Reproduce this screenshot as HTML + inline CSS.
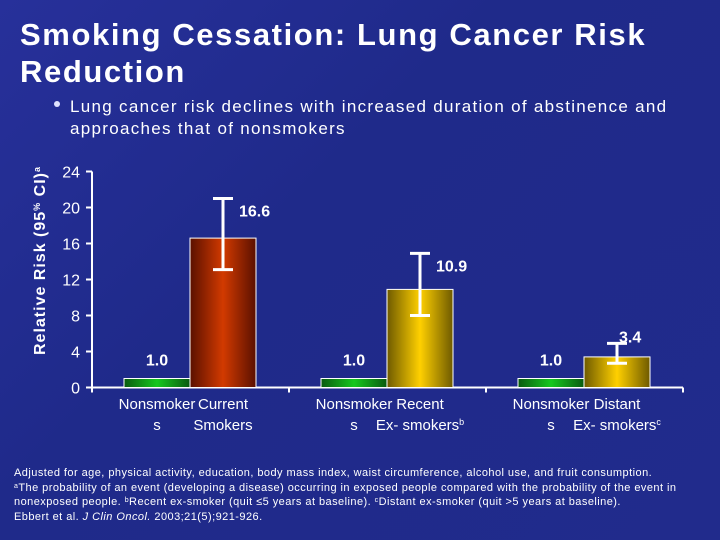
<!DOCTYPE html>
<html><head><meta charset="utf-8"><style>
body{margin:0;width:720px;height:540px;overflow:hidden;font-family:"Liberation Sans",sans-serif;}
#bg{position:absolute;left:0;top:0;width:720px;height:540px;background:linear-gradient(135deg,#27309a 0%,#1f2a8a 40%,#212b8c 100%);}
</style></head><body>
<div id="bg"></div>
<svg width="720" height="540" style="position:absolute;left:0;top:0">
<defs>
<linearGradient id="gG" x1="0" x2="1"><stop offset="0" stop-color="#0a5a10"/><stop offset="0.5" stop-color="#16c81e"/><stop offset="1" stop-color="#0a5a10"/></linearGradient>
<linearGradient id="gR" x1="0" x2="1"><stop offset="0" stop-color="#5a1000"/><stop offset="0.5" stop-color="#d23a00"/><stop offset="1" stop-color="#5a1000"/></linearGradient>
<linearGradient id="gY" x1="0" x2="1"><stop offset="0" stop-color="#6e5a00"/><stop offset="0.5" stop-color="#ffd000"/><stop offset="1" stop-color="#6e5a00"/></linearGradient>
</defs>
<text x="20" y="45" fill="#fff" font-size="31" font-weight="bold" letter-spacing="1.6">Smoking Cessation: Lung Cancer Risk</text>
<text x="20" y="82" fill="#fff" font-size="31" font-weight="bold" letter-spacing="1.6">Reduction</text>
<circle cx="57" cy="104" r="3" fill="#dfe3ff"/>
<text x="70" y="112" fill="#fff" font-size="17" letter-spacing="1.3">Lung cancer risk declines with increased duration of abstinence and</text>
<text x="70" y="134" fill="#fff" font-size="17" letter-spacing="1.3">approaches that of nonsmokers</text>
<text transform="translate(45,355) rotate(-90)" fill="#fff" font-size="16" font-weight="bold" letter-spacing="1">Relative Risk (95<tspan font-size="9" dy="-5">%</tspan><tspan dy="5"> CI)</tspan><tspan font-size="9" dy="-5">a</tspan></text>
<g id="chart"></g>
<g fill="#fff" font-size="11" letter-spacing="0.45">
<text x="14" y="476">Adjusted for age, physical activity, education, body mass index, waist circumference, alcohol use, and fruit consumption.</text>
<text x="14" y="491"><tspan font-size="7" dy="-3">a</tspan><tspan dy="3">The probability of an event (developing a disease) occurring in exposed people compared with the probability of the event in</tspan></text>
<text x="14" y="505">nonexposed people. <tspan font-size="7" dy="-3">b</tspan><tspan dy="3">Recent ex-smoker (quit ≤5 years at baseline). </tspan><tspan font-size="7" dy="-3">c</tspan><tspan dy="3">Distant ex-smoker (quit &gt;5 years at baseline).</tspan></text>
<text x="14" y="520">Ebbert et al. <tspan font-style="italic">J Clin Oncol.</tspan> 2003;21(5);921-926.</text>
</g>
</svg>
<script>
const categoriesTop=["Nonsmoker","Current","Nonsmoker","Recent","Nonsmoker","Distant"];
const categoriesBottom=["s","Smokers","s","Ex- smokers","s","Ex- smokers"];
const values=[1.0,16.6,1.0,10.9,1.0,3.4];
const errLow=[null,13.1,null,8.0,null,2.7];
const errHigh=[null,21.0,null,14.9,null,4.9];
const valueLabels=["1.0","16.6","1.0","10.9","1.0","3.4"];
const yTicks=[0,4,8,12,16,20,24];
const fills=["url(#gG)","url(#gR)","url(#gG)","url(#gY)","url(#gG)","url(#gY)"];
const NS="http://www.w3.org/2000/svg";
const g=document.getElementById('chart');
const y0=387.5, pxPer=9, ax=92, axEnd=683, gw=197, bw=66;
const Y=v=>y0-v*pxPer;
const X=i=>124+Math.floor(i/2)*gw+(i%2)*bw;
function mk(t,a,p){const e=document.createElementNS(NS,t);for(const k in a)e.setAttribute(k,a[k]);(p||g).appendChild(e);return e;}
let e=mk('line',{x1:ax,y1:Y(24),x2:ax,y2:y0,stroke:'#fff','stroke-width':2});

e=mk('line',{x1:ax,y1:y0,x2:axEnd,y2:y0,stroke:'#fff','stroke-width':2});

[0,1,2,3].forEach(k=>{const x=ax+k*gw;const t=mk('line',{x1:x,y1:y0,x2:x,y2:y0+5,stroke:'#fff','stroke-width':2});
});
yTicks.forEach(v=>{const t=mk('line',{x1:ax-6,y1:Y(v),x2:ax,y2:Y(v),stroke:'#fff','stroke-width':2});

const l=mk('text',{x:80,y:Y(v)+6,fill:'#fff','font-size':16,'text-anchor':'end'});l.textContent=v;
});
values.forEach((v,i)=>{const x=X(i);
const b=mk('rect',{x:x,y:Y(v),width:bw,height:v*pxPer,fill:fills[i],stroke:'#fff','stroke-width':1});

const cx=x+bw/2;
if(errHigh[i]!=null){const eg=mk('g',{stroke:'#fff','stroke-width':3});

mk('line',{x1:cx,y1:Y(errHigh[i]),x2:cx,y2:Y(errLow[i])},eg);
mk('line',{x1:cx-10,y1:Y(errHigh[i]),x2:cx+10,y2:Y(errHigh[i])},eg);
mk('line',{x1:cx-10,y1:Y(errLow[i]),x2:cx+10,y2:Y(errLow[i])},eg);
const l=mk('text',{x:cx+ (i==5?2:16),y:Y(errHigh[i])+(i==5?-1:18),fill:'#fff','font-size':16,'font-weight':'bold'});l.textContent=valueLabels[i];

}else{const l=mk('text',{x:cx,y:Y(v)-13,fill:'#fff','font-size':16,'font-weight':'bold','text-anchor':'middle'});l.textContent=valueLabels[i];
}
const c1=mk('text',{x:cx,y:409,fill:'#fff','font-size':15,'text-anchor':'middle'});c1.textContent=categoriesTop[i];

const c2=mk('text',{x:cx,y:430,fill:'#fff','font-size':15,'text-anchor':'middle'});c2.textContent=categoriesBottom[i];

if(i==3||i==5){const s=mk('tspan',{'font-size':9,dy:-5});s.textContent=i==3?'b':'c';c2.appendChild(s);}
});
</script>
</body></html>
